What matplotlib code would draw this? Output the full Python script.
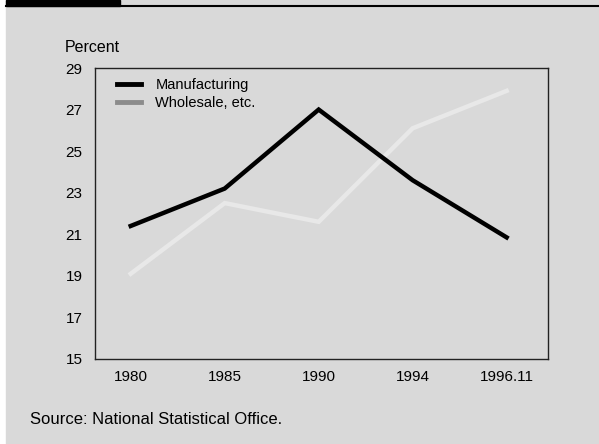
import matplotlib.pyplot as plt
from matplotlib.lines import Line2D
from matplotlib.patches import Rectangle

plt.rcParams['font.family'] = ['Liberation Sans', 'DejaVu Sans']

years = ["1980", "1985", "1990", "1994", "1996.11"]
manufacturing = [21.4, 23.2, 27.0, 23.6, 20.85]
wholesale = [19.1, 22.5, 21.6, 26.1, 27.9]
yticks = [15, 17, 19, 21, 23, 25, 27, 29]

bg = "#d9d9d9"
fig = plt.figure(figsize=(5.99, 4.44), dpi=100)
fig.patch.set_facecolor("white")

# grey panel, black tab and rule at the top
fig.patches.append(Rectangle((6 / 599, 0), 1, 1, transform=fig.transFigure, color=bg, zorder=-2))
fig.patches.append(Rectangle((6 / 599, 1 - 6 / 444), 114 / 599, 6 / 444,
                             transform=fig.transFigure, color="black", zorder=-1))
fig.add_artist(Line2D([6 / 599, 1], [1 - 6.5 / 444, 1 - 6.5 / 444], transform=fig.transFigure,
                      color="black", lw=1.5))

ax = fig.add_axes([95 / 599, 1 - 359 / 444, 453 / 599, 291 / 444])
ax.set_facecolor(bg)
x = range(len(years))
ax.plot(x, wholesale, color="#e8e8e8", lw=3.2, solid_joinstyle="miter")
ax.plot(x, manufacturing, color="black", lw=3.2, solid_joinstyle="miter")

ax.set_xlim(-0.38, 4.44)
ax.set_ylim(15, 29)
ax.set_xticks(list(x))
ax.set_xticklabels(years)
ax.set_yticks(yticks)
ax.tick_params(length=0, labelsize=11, pad=8)
ax.tick_params(axis="y", pad=9)
for s in ax.spines.values():
    s.set_linewidth(1.0)
    s.set_color("#222222")

handles = [Line2D([], [], color="black", lw=3.5),
           Line2D([], [], color="#8c8c8c", lw=3.5)]
ax.legend(handles, ["Manufacturing", "Wholesale, etc."], loc="upper left",
          frameon=False, fontsize=10.5, handlelength=1.7, handletextpad=0.95,
          labelspacing=0.25, bbox_to_anchor=(0.035, 0.985), borderaxespad=0)

fig.text(65 / 599, 1 - 48 / 444, "Percent", fontsize=11.5, va="center")
fig.text(30 / 599, 1 - 419 / 444, "Source: National Statistical Office.", fontsize=12, va="center")

fig.savefig("out.png", dpi=100, facecolor=fig.get_facecolor())
